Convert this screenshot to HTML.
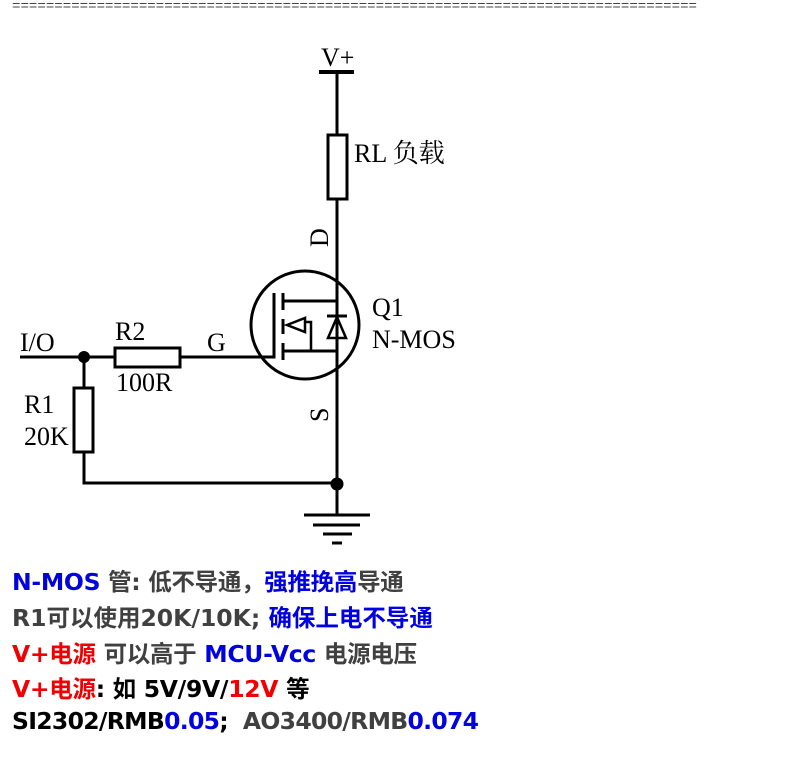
<!DOCTYPE html>
<html><head><meta charset="utf-8"><style>
body{margin:0;width:798px;height:760px;background:#fff;overflow:hidden;position:relative}
.t{position:absolute;left:12px;font-family:"DejaVu Sans","Noto Sans CJK SC",sans-serif;font-weight:bold;font-size:23.5px;white-space:nowrap;color:#404040;letter-spacing:-0.3px}
.b{color:#0000e0}.r{color:#f00000}.k{color:#000}
</style></head><body>
<svg width="798" height="760" style="position:absolute;left:0;top:0" font-family="Liberation Serif, Noto Serif CJK SC, serif" font-size="26">
<text x="12" y="10" font-family="Liberation Mono, monospace" font-size="14" fill="#444" textLength="685" lengthAdjust="spacingAndGlyphs">=================================================================================</text>
<g stroke="#000" stroke-width="3" fill="none">
<line x1="337" y1="72" x2="337" y2="485"/>
<line x1="319" y1="72" x2="354" y2="72" stroke-width="4"/>
<rect x="328" y="135" width="19" height="64" fill="#fff"/>
<circle cx="305" cy="325" r="54"/>
<polyline points="20,357 274,357 274,293"/>
<line x1="283" y1="293" x2="283" y2="310"/>
<line x1="283" y1="319" x2="283" y2="334"/>
<line x1="283" y1="343" x2="283" y2="360"/>
<line x1="283" y1="301" x2="337" y2="301"/>
<line x1="283" y1="351" x2="337" y2="351"/>
<polygon points="287,325 305,318 305,332" stroke-width="2.5"/>
<polyline points="305,322 311,322 311,351" stroke-width="2.5"/>
<line x1="327" y1="316" x2="347" y2="316"/>
<polygon points="337,317 328,338 346,338" stroke-width="2.5"/>
<rect x="115" y="348" width="65" height="19" fill="#fff"/>
<polyline points="84,357 84,483 337,483"/>
<rect x="74" y="388" width="19" height="64" fill="#fff"/>
<line x1="337" y1="483" x2="337" y2="515"/>
<line x1="304" y1="515" x2="370" y2="515"/>
<line x1="313" y1="525" x2="360" y2="525"/>
<line x1="323" y1="534" x2="352" y2="534"/>
<line x1="332" y1="543" x2="342" y2="543"/>
</g>
<circle cx="84" cy="357" r="6"/>
<circle cx="337" cy="484" r="6.5"/>
<text x="321" y="66">V+</text>
<text x="354" y="162">RL 负载</text>
<text x="372" y="316">Q1</text>
<text x="372" y="348">N-MOS</text>
<text x="20" y="351">I/O</text>
<text x="115" y="340">R2</text>
<text x="116" y="391">100R</text>
<text x="207" y="351">G</text>
<text x="24" y="413">R1</text>
<text x="24" y="445">20K</text>
<text transform="translate(328,247) rotate(-90)">D</text>
<text transform="translate(328,422) rotate(-90)">S</text>
</svg>
<div class="t" style="top:563px"><span class="b">N-MOS</span> 管: 低不导通，<span class="b">强推挽高</span>导通</div>
<div class="t" style="top:599px;letter-spacing:0">R1可以使用20K/10K; <span class="b">确保上电不导通</span></div>
<div class="t" style="top:635px"><span class="r">V+电源</span> 可以高于 <span class="b">MCU-Vcc</span> 电源电压</div>
<div class="t k" style="top:670px"><span class="r">V+电源</span>: 如 5V/9V/<span class="r">12V</span> 等</div>
<div class="t k" style="top:707px;letter-spacing:-0.7px">SI2302/RMB<span class="b">0.05</span>;&nbsp; <span style="color:#404040">AO3400/RMB</span><span class="b">0.074</span></div>
</body></html>
